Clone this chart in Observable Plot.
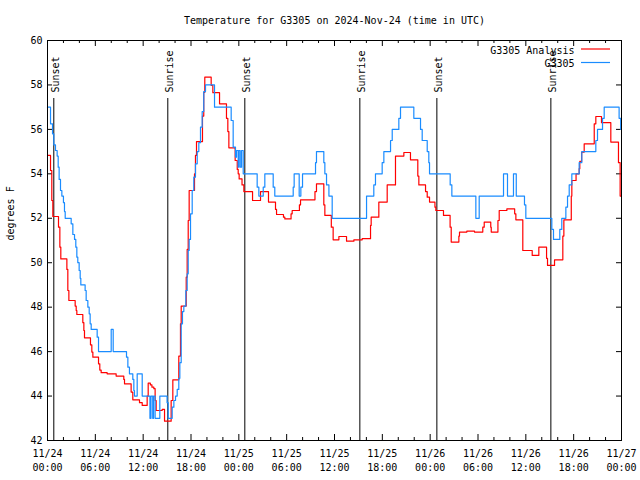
<!DOCTYPE html>
<html><head><meta charset="utf-8">
<script src="https://cdn.jsdelivr.net/npm/d3@7"></script>
<script src="https://cdn.jsdelivr.net/npm/@observablehq/plot@0.6"></script>
<style>body{margin:0;background:#fff} svg{display:block}</style>
</head><body><div id="chart"></div>
<script>
const startUTC = Date.UTC(2024, 10, 24, 0, 0);
const title = "Temperature for G3305 on 2024-Nov-24 (time in UTC)";
const yLabel = "degrees F";
const seriesNames = ["G3305 Analysis", "G3305"];
const seriesColors = ["#ff0000", "#1a8cff"];

// G3305 Analysis (red) — hours since 11/24 00:00 UTC and temperature at each step
const analysisHours = [0,0.38,0.54,0.67,1.38,1.55,1.67,2.43,2.55,2.68,3.47,3.6,3.68,4.43,4.56,4.64,5.39,5.56,5.69,6.4,6.56,6.73,7.48,8.61,9.57,9.66,10.49,10.7,11.54,11.88,12.5,12.63,12.9,13.1,13.34,13.5,13.63,14.38,14.68,15.51,15.72,16.47,16.68,16.77,17.4,17.52,17.65,17.77,18.44,18.56,18.69,19.44,19.6,19.73,20.53,20.74,21.58,22.45,22.62,22.75,23.54,23.8,23.92,24.04,24.4,24.63,25.72,26.72,27.72,28.6,28.73,29.6,29.77,30.55,30.69,31.6,31.74,33.55,33.74,34.66,34.79,35.6,35.83,36.55,37.51,38.43,39.47,40.52,40.6,41.56,42.61,43.65,44.7,45.53,46.45,46.58,47.42,47.63,47.92,48.6,48.71,49.67,50.5,50.64,51.6,51.68,52.6,53.56,54.6,54.78,55.6,55.66,56.5,56.66,57.62,58.6,58.75,59.62,60.8,61.63,62.6,62.72,63.6,64.64,64.77,65.7,65.77,66.3,66.69,66.77,67.0,67.32,68.58,68.78,69.49,70.66,71.62,71.83,72];
const analysisTemps = [54.83,54.15,52.8,52.08,51.6,50.7,50.17,49.7,48.75,48.3,48.05,47.85,47.67,47.3,46.95,46.62,46.3,45.98,45.75,45.45,45.17,45.05,45.0,44.9,44.75,44.55,44.18,43.83,43.7,43.58,44.0,44.58,44.5,44.4,44.33,43.8,43.35,43.4,42.87,43.8,44.73,45.8,47.25,48.05,49.35,50.6,51.9,53.25,54.0,54.83,55.45,56.6,57.67,58.35,57.98,57.65,57.15,56.5,55.9,55.17,54.6,54.2,54.0,53.77,53.5,53.2,52.8,53.2,52.73,52.4,52.17,52.05,51.97,52.2,52.35,52.6,52.83,53.2,53.55,52.6,52.13,51.6,51.03,51.18,50.97,51.03,51.08,51.68,52.05,52.73,53.5,54.8,54.96,54.63,53.9,53.5,53.2,52.95,52.73,52.5,52.35,52.13,51.6,50.93,51.2,51.38,51.42,51.38,51.6,51.83,51.6,51.38,51.9,52.35,52.42,52.2,51.93,50.55,50.33,50.7,50.2,49.88,50.13,51.2,51.93,53.0,53.7,54.0,54.23,54.56,54.98,55.35,56.25,56.58,56.3,55.43,54.5,53.0,53.0];

// G3305 observed (blue)
const obsHours = [0,0.38,0.63,0.79,1.0,1.21,1.34,1.46,1.63,1.8,2.0,2.13,2.22,2.97,3.18,3.39,3.55,3.68,3.8,3.97,4.1,4.18,4.72,4.85,5.06,5.23,5.35,5.48,6.23,6.4,7.99,8.24,9.91,10.08,10.28,10.7,10.83,10.91,11.25,11.88,12.85,12.98,13.2,13.3,13.5,14.09,15.0,15.14,15.64,15.85,16.06,16.27,16.47,16.6,16.77,16.93,17.1,17.35,17.52,17.65,17.77,17.94,18.15,18.35,18.56,18.78,18.98,19.19,19.4,19.6,19.82,20.95,23.04,23.29,23.58,23.71,23.92,24.0,24.17,24.34,24.55,26.3,26.51,27.06,27.26,28.31,28.51,30.82,30.94,31.57,31.78,31.99,33.62,33.74,34.66,34.79,35.0,35.3,35.71,40.02,40.93,41.14,41.98,42.19,43.03,43.24,44.07,44.28,45.95,46.79,47.0,47.63,47.83,47.92,50.51,50.72,53.73,54.15,57.2,57.7,58.45,58.8,59.83,60.0,63.26,63.47,64.26,64.51,65.02,65.23,65.44,65.77,66.69,67.02,68.78,68.99,69.62,69.83,71.7,71.9,72];
const obsTemps = [57,56.25,55.8,55.3,55.05,54.8,54.3,53.75,53.25,53.0,52.7,52.3,52.0,51.75,51.27,51.05,50.7,50.25,50.0,49.65,49.3,49.0,48.75,48.3,48.0,47.7,47.25,47.0,46.65,46.0,47.0,46.0,45.75,45.3,45.0,44.75,44.25,44.0,45.0,44.0,43.0,44.0,43.0,44.0,43.0,44.0,43.7,43.0,43.5,43.8,44.0,44.3,44.8,45.5,47.25,47.8,48.05,48.75,49.5,50.55,51.05,52.2,53.25,53.85,54.45,55.0,55.4,56.1,56.8,57.7,58.0,57.0,56.4,55.2,54.75,55.05,54.3,55.05,54.3,55.05,54.0,53.4,53.0,53.4,54.0,53.4,53.0,53.4,54.0,53.0,53.4,54.0,54.5,55.0,54.5,54.0,53.5,53.0,52.0,53.0,53.5,54.0,54.5,55.0,55.5,56.0,56.5,57.0,56.5,56.0,55.5,55.0,54.5,54.0,53.5,53.0,52.0,53.0,54.0,53.0,54.0,53.0,52.6,52.0,51.5,51.05,51.5,52.0,52.5,53.0,53.5,54.0,54.5,55.0,55.5,56.0,56.5,57.0,56.5,56.0,56.0];

const eventHours = [0.79, 15.09, 24.75, 39.18, 48.84, 63.14];
const eventLabels = ["Sunset", "Sunrise", "Sunset", "Sunrise", "Sunset", "Sunrise"];
const yTicks = [42, 44, 46, 48, 50, 52, 54, 56, 58, 60];
const xMajorHours = [0, 6, 12, 18, 24, 30, 36, 42, 48, 54, 60, 66, 72];
const xMinorHours = [2, 4, 8, 10, 14, 16, 20, 22, 26, 28, 32, 34, 38, 40, 44, 46, 50, 52, 56, 58, 62, 64, 68, 70];

const toDate = h => new Date(startUTC + h * 3600e3);
const analysis = analysisHours.map((h, i) => ({date: toDate(h), temp: analysisTemps[i]}));
const observed = obsHours.map((h, i) => ({date: toDate(h), temp: obsTemps[i]}));
const events = eventHours.map((h, i) => ({date: toDate(h), label: eventLabels[i]}));
const majors = xMajorHours.map(toDate);
const minors = xMinorHours.map(toDate);
const fmtD = d3.utcFormat("%m/%d"), fmtT = d3.utcFormat("%H:%M");

const W = 640, H = 480, mL = 47, mR = 19, mT = 40, mB = 40;
const fw = W - mL - mR, fh = H - mT - mB;

const chart = Plot.plot({
  width: W, height: H,
  marginLeft: mL, marginRight: mR, marginTop: mT, marginBottom: mB,
  style: {fontFamily: "'DejaVu Sans Mono', monospace", fontSize: "10px", background: "white", color: "black"},
  x: {type: "utc", domain: [toDate(0), toDate(72)], axis: null},
  y: {domain: [42, 60], axis: null},
  marks: [
    Plot.ruleX(majors, {x: d => d, insetTop: fh - 6, stroke: "black"}),
    Plot.ruleX(majors, {x: d => d, insetBottom: fh - 6, stroke: "black"}),
    Plot.ruleX(minors, {x: d => d, insetTop: fh - 3, stroke: "black"}),
    Plot.ruleX(minors, {x: d => d, insetBottom: fh - 3, stroke: "black"}),
    Plot.ruleY(yTicks, {y: d => d, insetRight: fw - 5, stroke: "black"}),
    Plot.ruleY(yTicks, {y: d => d, insetLeft: fw - 5, stroke: "black"}),
    Plot.ruleX(events, {x: "date", insetTop: 58, stroke: "black"}),
    Plot.text(events, {x: "date", text: "label", frameAnchor: "top", rotate: -90, textAnchor: "start", dy: 52, dx: -2, fill: "black"}),
    Plot.line(analysis, {x: "date", y: "temp", curve: "step-after", stroke: seriesColors[0], strokeWidth: 1.2}),
    Plot.line(observed, {x: "date", y: "temp", curve: "step-after", stroke: seriesColors[1], strokeWidth: 1.2}),
    Plot.frame({stroke: "black"}),
    Plot.text(majors, {x: d => d, text: d => fmtD(d) + "\n" + fmtT(d), frameAnchor: "bottom", dy: 30, lineHeight: 1.4, fill: "black"}),
    Plot.text(yTicks, {y: d => d, text: d => String(d), frameAnchor: "left", dx: -5, textAnchor: "end", fill: "black"}),
    Plot.text([title], {frameAnchor: "top", dy: -24, fill: "black"}),
    Plot.text([yLabel], {frameAnchor: "left", dx: -37, rotate: -90, fill: "black"}),
    Plot.text([seriesNames[0]], {frameAnchor: "top-right", dx: -47, dy: 6, textAnchor: "end", fill: "black"}),
    Plot.text([seriesNames[1]], {frameAnchor: "top-right", dx: -47, dy: 19.5, textAnchor: "end", fill: "black"})
  ]
});
const svg = d3.select(chart);
[0, 1].forEach(i => {
  svg.append("line")
    .attr("x1", W - mR - 40).attr("x2", W - mR - 11)
    .attr("y1", mT + 9 + i * 13.5).attr("y2", mT + 9 + i * 13.5)
    .attr("stroke", seriesColors[i]).attr("stroke-width", 1.2);
});
document.getElementById("chart").append(chart);
</script>
</body></html>
